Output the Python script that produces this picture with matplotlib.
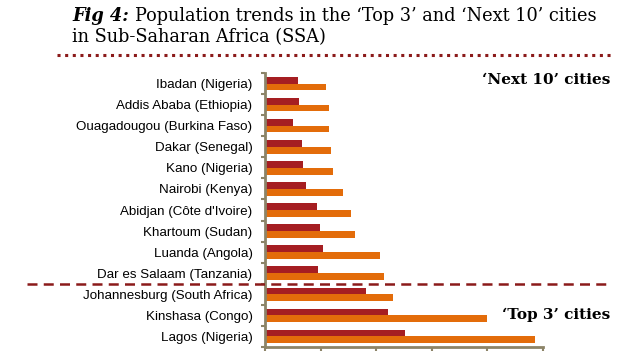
import matplotlib
matplotlib.use("Agg")
import matplotlib.pyplot as plt
import numpy as np
from matplotlib.transforms import blended_transform_factory
from matplotlib.lines import Line2D

cities = ["Ibadan (Nigeria)", "Addis Ababa (Ethiopia)", "Ouagadougou (Burkina Faso)",
          "Dakar (Senegal)", "Kano (Nigeria)", "Nairobi (Kenya)", "Abidjan (Côte d'Ivoire)",
          "Khartoum (Sudan)", "Luanda (Angola)", "Dar es Salaam (Tanzania)",
          "Johannesburg (South Africa)", "Kinshasa (Congo)", "Lagos (Nigeria)"]
pop_now = [3.0, 3.1, 2.5, 3.3, 3.4, 3.7, 4.65, 4.95, 5.2, 4.8, 9.05, 11.1, 12.6]
pop_future = [5.45, 5.75, 5.75, 5.95, 6.1, 7.05, 7.7, 8.1, 10.35, 10.7, 11.55, 19.95, 24.3]
xticks = [0, 5, 10, 15, 20, 25]

red = "#A51E22"
orange = "#E36C0A"
axis_col = "#8C8468"
line_red = "#8B1A1A"

fig = plt.figure(figsize=(6.2, 3.54), dpi=100)
ax = fig.add_axes([265/620, 1-347/354, (543-265)/620, (347-73)/354])

y = np.arange(len(cities))
h = 0.32
ax.barh(y - h/2, pop_now, height=h, color=red)
ax.barh(y + h/2, pop_future, height=h, color=orange)

ax.set_ylim(len(cities) - 0.5, -0.5)
ax.set_xlim(xticks[0], xticks[-1])
ax.set_yticks(y)
ax.set_yticklabels(cities, fontfamily="Liberation Sans", fontsize=9.6)
ax.set_yticks(np.arange(len(cities) + 1) - 0.5, minor=True)
ax.tick_params(axis="y", which="major", length=0, pad=9)
ax.tick_params(axis="y", which="minor", length=3, width=1.5, color=axis_col, direction="out")
ax.set_xticks(xticks)
ax.set_xticklabels([])
ax.tick_params(axis="x", length=3, width=1.5, color=axis_col, direction="out")
for s in ["top", "right"]:
    ax.spines[s].set_visible(False)
for s in ["left", "bottom"]:
    ax.spines[s].set_color(axis_col)
    ax.spines[s].set_linewidth(2)

# separator between 'Next 10' and 'Top 3'
tr = blended_transform_factory(fig.transFigure, ax.transData)
fig.add_artist(Line2D([27/620, 608/620], [9.5, 9.5], transform=tr, color=line_red,
                      lw=1.8, linestyle=(0, (4, 2.5)), clip_on=False))

# top dotted line
fig.add_artist(Line2D([57/620, 612/620], [1-55/354, 1-55/354], transform=fig.transFigure,
                      color=line_red, lw=2.2, linestyle=(0, (1, 1.5))))

# title
tfs = 12.8
t1 = fig.text(72/620, 1-16/354, "Fig 4:", fontsize=tfs, va="center",
              fontfamily="DejaVu Serif", fontweight="bold", fontstyle="italic")
fig.canvas.draw()
bb = t1.get_window_extent()
x2 = (bb.x1 + 6) / fig.bbox.width
fig.text(x2, 1-16/354, "Population trends in the ‘Top 3’ and ‘Next 10’ cities",
         fontsize=tfs, va="center", fontfamily="DejaVu Serif")
fig.text(72/620, 1-37/354, "in Sub-Saharan Africa (SSA)", fontsize=tfs, va="center",
         fontfamily="DejaVu Serif")

fig.text(610/620, 1-80/354, "‘Next 10’ cities", fontsize=11, ha="right", va="center",
         fontfamily="DejaVu Serif", fontweight="bold")
fig.text(610/620, 1-315/354, "‘Top 3’ cities", fontsize=11, ha="right", va="center",
         fontfamily="DejaVu Serif", fontweight="bold")

fig.savefig("out.png", dpi=100)
